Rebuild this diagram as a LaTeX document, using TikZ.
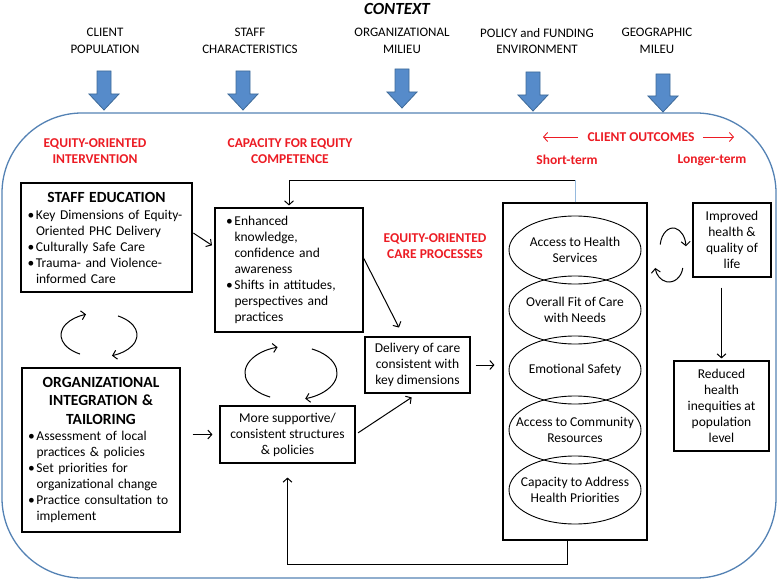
\documentclass[tikz,border=0pt]{standalone}
\usepackage{fontspec}
\setmainfont{Carlito}
\usetikzlibrary{arrows.meta,positioning,shapes.geometric}
\definecolor{framebl}{RGB}{84,130,180}
\definecolor{arrowbl}{RGB}{86,139,202}
\definecolor{arrowed}{RGB}{62,106,152}
\definecolor{hdred}{RGB}{236,28,36}
\definecolor{paleblue}{RGB}{150,186,222}
\newcommand\bul{\makebox[8.5pt][l]{\textbullet}}
\newcommand\ind{\hspace*{8.5pt}}
\newcommand\bodyfont{\fontsize{13.5}{16}\selectfont}
\newcommand\ttlfont{\fontsize{15.5}{18.5}\selectfont\bfseries}
\newcommand\redfont{\fontsize{13.5}{16}\selectfont\bfseries}
\newcommand\ctxfont{\fontsize{13}{16.5}\selectfont}
\tikzset{
  box/.style={draw, line width=1.1pt, font=\bodyfont, inner sep=0pt},
  oval/.style={draw, ellipse, line width=0.9pt, minimum width=132pt, minimum height=68pt, font=\bodyfont, align=center, inner xsep=-16pt, inner ysep=0pt},
  redhead/.style={text=hdred, font=\redfont, align=center},
  ctxlabel/.style={font=\ctxfont, align=center},
  ctxarrow/.style={fill=arrowbl, draw=arrowed, line width=0.8pt},
  conn/.style={draw, ->, line width=1pt},
  redarrow/.style={draw=hdred, ->, line width=0.9pt},
  turn/.style={draw, ->, line width=1pt}
}

\begin{document}
\begin{tikzpicture}[x=1pt, y=1pt, node distance=60pt, >={Straight Barb[length=4pt,width=9pt]}]
\useasboundingbox (0,0) rectangle (778,-580);

\node (ctxtitle) [font=\fontsize{17}{20}\selectfont\bfseries\itshape] at (397,-9) {CONTEXT};
\node (clientpop) [ctxlabel] at (105,-41) {CLIENT\\POPULATION};
\node (staffchar) [ctxlabel] at (250,-41) {STAFF\\CHARACTERISTICS};
\node (orgmil) [ctxlabel] at (402,-41) {ORGANIZATIONAL\\MILIEU};
\node (policy) [ctxlabel] at (537,-41) {POLICY and FUNDING\\ENVIRONMENT};
\node (geomil) [ctxlabel] at (657,-41) {GEOGRAPHIC\\MILEU};

\draw[draw=framebl, line width=1.3pt, rounded corners=80pt] (2,-113) rectangle (776,-578);

\draw[ctxarrow] (97,-71) -- (111,-71) -- (111,-94) -- (119,-94) -- (104,-110) -- (89,-94) -- (97,-94) -- cycle;
\draw[ctxarrow] (236,-71) -- (250,-71) -- (250,-94) -- (258,-94) -- (243,-110) -- (228,-94) -- (236,-94) -- cycle;
\draw[ctxarrow] (395,-69) -- (409,-69) -- (409,-92) -- (417,-92) -- (402,-108) -- (387,-92) -- (395,-92) -- cycle;
\draw[ctxarrow] (526,-72) -- (540,-72) -- (540,-95) -- (548,-95) -- (533,-111) -- (518,-95) -- (526,-95) -- cycle;
\draw[ctxarrow] (656,-74) -- (670,-74) -- (670,-96) -- (678,-96) -- (663,-112) -- (648,-96) -- (656,-96) -- cycle;

\node (hint) [redhead] at (95,-151) {EQUITY-ORIENTED\\INTERVENTION};
\node (hcap) [redhead] at (290,-151) {CAPACITY FOR EQUITY\\COMPETENCE};
\node (hout) [redhead] at (641,-137) {CLIENT OUTCOMES};
\node (hshort) [redhead] at (567,-160) {Short-term};
\node (hlong) [redhead] at (712,-160) {Longer-term};
\node (hproc) [redhead] at (435,-246) {EQUITY-ORIENTED\\CARE PROCESSES};
\coordinate (outl) at (543,-137);
\coordinate (outr) at (734,-137);
\draw[redarrow, shorten <=6pt] (hout) -- (outl);
\draw[redarrow, shorten <=5pt] (hout) -- (outr);

\node (staffed) [box, minimum width=171pt, minimum height=109pt, text width=158pt, align=left] at (106.5,-237.5) {{\centering\ttlfont STAFF EDUCATION\par}\vspace{1pt}\bul Key Dimensions of Equity-\\\ind Oriented PHC Delivery\\\bul Culturally Safe Care\\\bul Trauma- and Violence-\\\ind informed Care};
\node (orgint) [box, minimum width=158pt, minimum height=164pt, text width=146pt, align=left] at (101,-450) {{\centering\ttlfont ORGANIZATIONAL\\INTEGRATION \&\\TAILORING\par}\bul Assessment of local\\\ind practices \& policies\\\bul Set priorities for\\\ind organizational change\\\bul Practice consultation to\\\ind implement};
\node (capac) [box, minimum width=148pt, minimum height=124pt, text width=126pt, align=left] at (289,-270) {\bul Enhanced\\\ind knowledge,\\\ind confidence and\\\ind awareness\\\bul Shifts in attitudes,\\\ind perspectives and\\\ind practices};
\node (supp) [box, minimum width=135pt, minimum height=57pt, align=center] at (287.5,-434.5) {More supportive/\\consistent structures\\\& policies};
\node (deliv) [box, minimum width=105pt, minimum height=56pt, align=center] at (417.5,-365) {Delivery of care\\consistent with\\key dimensions};
\node (outcomes) [box, minimum width=144pt, minimum height=337pt] at (575,-371.5) {};
\node (acc) [oval] at (575,-250) {Access to Health\\Services};
\node (fit) [oval, below of=acc] {Overall Fit of Care\\with Needs};
\node (emo) [oval, below of=fit] {Emotional Safety};
\node (comm) [oval, below of=emo] {Access to Community\\Resources};
\node (prio) [oval, below of=comm] {Capacity to Address\\Health Priorities};
\node (improved) [box, minimum width=78pt, minimum height=74pt, align=center] at (732,-240) {Improved\\health \&\\quality of\\life};
\node (reduced) [box, minimum width=95pt, minimum height=90pt, align=center] at (721.5,-406) {Reduced\\health\\inequities at\\population\\level};

\coordinate (topline) at (0,-180);
\coordinate (botline) at (0,-564);
\draw[conn, shorten >=2pt] (outcomes.north) |- (capac.north |- topline) -- (capac.north);
\draw[draw=paleblue, line width=1pt] (outcomes.north) -- (outcomes.north |- topline);
\draw[conn, shorten >=14pt] ([xshift=-8pt]outcomes.south) |- (supp.south |- botline) -- (supp.south);
\draw[conn, shorten <=1pt, shorten >=3pt] ([yshift=5pt]staffed.east) -- ([yshift=23pt]capac.west);
\draw[conn, shorten <=12pt, shorten >=7pt] (orgint.east |- supp.west) -- (supp.west);
\draw[conn, shorten >=10pt] ([yshift=12pt]capac.east) -- ([xshift=-14pt]deliv.north);
\draw[conn, shorten <=3pt, shorten >=7pt] (supp.east) -- (deliv.south);
\draw[conn, shorten <=5pt, shorten >=8pt] (deliv.east) -- (deliv.east -| outcomes.west);
\draw[conn, shorten <=10pt, shorten >=2pt] (reduced.north |- improved.south) -- (reduced.north);

\coordinate (cyc1) at (99,-335);
\coordinate (cyc2) at (291,-373);
\coordinate (cyc3) at (673,-248);
\coordinate (cyc4) at (669,-265);
\draw[turn] (cyc1) ++(240:38pt and 22pt) arc[start angle=240, end angle=110, x radius=38pt, y radius=22pt];
\draw[turn] (cyc1) ++(60:38pt and 22pt) arc[start angle=60, end angle=-70, x radius=38pt, y radius=22pt];
\draw[turn] (cyc2) ++(243:46pt and 27pt) arc[start angle=243, end angle=107, x radius=46pt, y radius=27pt];
\draw[turn] (cyc2) ++(63:46pt and 27pt) arc[start angle=63, end angle=-72, x radius=46pt, y radius=27pt];
\draw[turn] (cyc3) ++(170:13pt and 20pt) arc[start angle=170, end angle=5, x radius=13pt, y radius=20pt];
\draw[turn] (cyc4) ++(-10:14pt and 17pt) arc[start angle=-10, end angle=-170, x radius=14pt, y radius=17pt];
\end{tikzpicture}
\end{document}
